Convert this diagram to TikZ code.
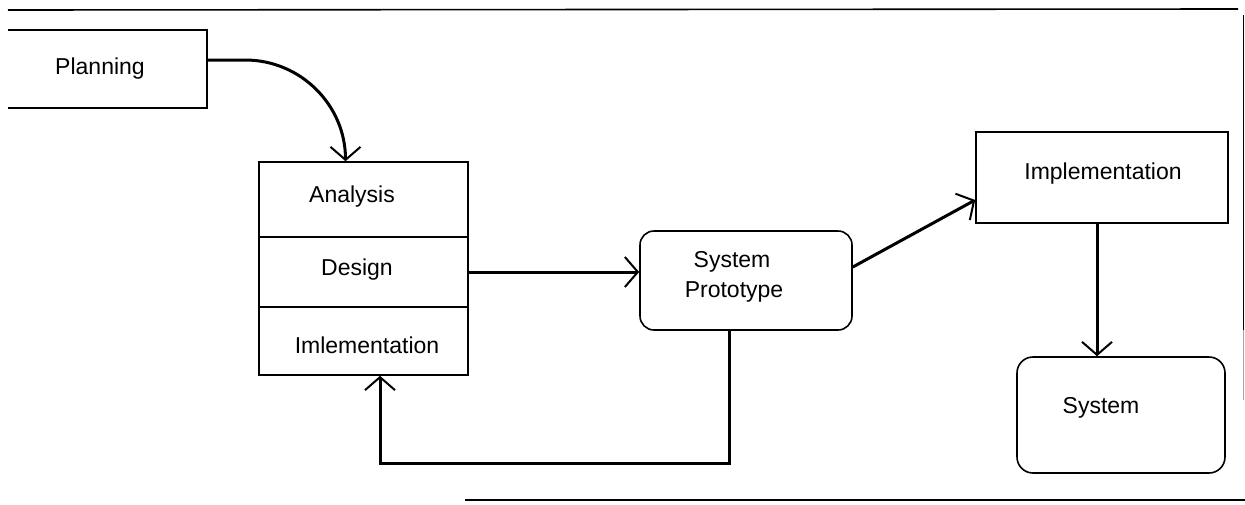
\documentclass[tikz,border=0pt]{standalone}
\usepackage{fontspec}
\setmainfont{Liberation Sans}
\usetikzlibrary{arrows.meta}
\begin{document}
\begin{tikzpicture}[x=1pt,y=-1pt,
  box/.style={draw,line width=1.6pt,inner sep=0pt},
  rbox/.style={box,rounded corners=14pt},
  lbl/.style={font=\fontsize{23}{32}\selectfont,inner sep=0pt,anchor=base},
  flow/.style={line width=3pt,-{Straight Barb[length=13pt,width=30pt,line width=2pt]}},
  framel/.style={line width=1.6pt}]
\useasboundingbox (0,0) rectangle (1245,504);
% frame
\draw[framel] (8,10) -- (1238,9);
\draw[framel] (1243.5,15) -- (1243.5,330);
\draw[line width=1pt,black!35] (1243.5,330) -- (1243.5,400);
\draw[framel] (465,500) -- (1245,500);
% Planning (open on the left)
\node[inner sep=0pt,minimum width=199pt,minimum height=78pt] (plan) at (107.5,69) {};
\draw[line width=1.6pt] (plan.north west) -- (plan.north east) -- (plan.south east) -- (plan.south west);
\node[lbl] (planT) at (100,74) {Planning};
% stacked box
\node[box,minimum width=209pt,minimum height=75pt] (ana) at (363.5,199.5) {};
\node[box,minimum width=209pt,minimum height=70pt] (des) at (363.5,272) {};
\node[box,minimum width=209pt,minimum height=68pt] (iml) at (363.5,341) {};
\node[lbl] (anaT) at (352,202) {Analysis};
\node[lbl] (desT) at (357,275) {Design};
\node[lbl] (imlT) at (367,353) {Imlementation};
% prototype
\node[rbox,minimum width=212pt,minimum height=99pt] (proto) at (746,280.5) {};
\node[lbl] (protoT1) at (732,267) {System};
\node[lbl] (protoT2) at (734,297) {Prototype};
% implementation
\node[box,minimum width=252pt,minimum height=91pt] (impl) at (1102,177.5) {};
\node[lbl] (implT) at (1103,179) {Implementation};
% system
\node[rbox,minimum width=208pt,minimum height=116pt,rounded corners=16pt] (sys) at (1121,415) {};
\node[lbl] (sysT) at (1101,413) {System};
% connectors
\draw[flow] ([yshift=9pt]plan.east) -- ++(38,0) to[out=0,in=90] ([xshift=-18pt]ana.north);
\draw[flow] (des.east) -- (des.east -| proto.west);
\coordinate (fb) at (729,463);
\draw[flow] ([xshift=-17pt]proto.south) -- (fb) -| ([xshift=16.5pt]iml.south);
\draw[flow] ([yshift=13.5pt]proto.east) -- ([yshift=-22.5pt]impl.west);
\draw[flow] ([xshift=-5pt]impl.south) -- ([xshift=-5pt]impl.south |- sys.north);
\end{tikzpicture}
\end{document}
